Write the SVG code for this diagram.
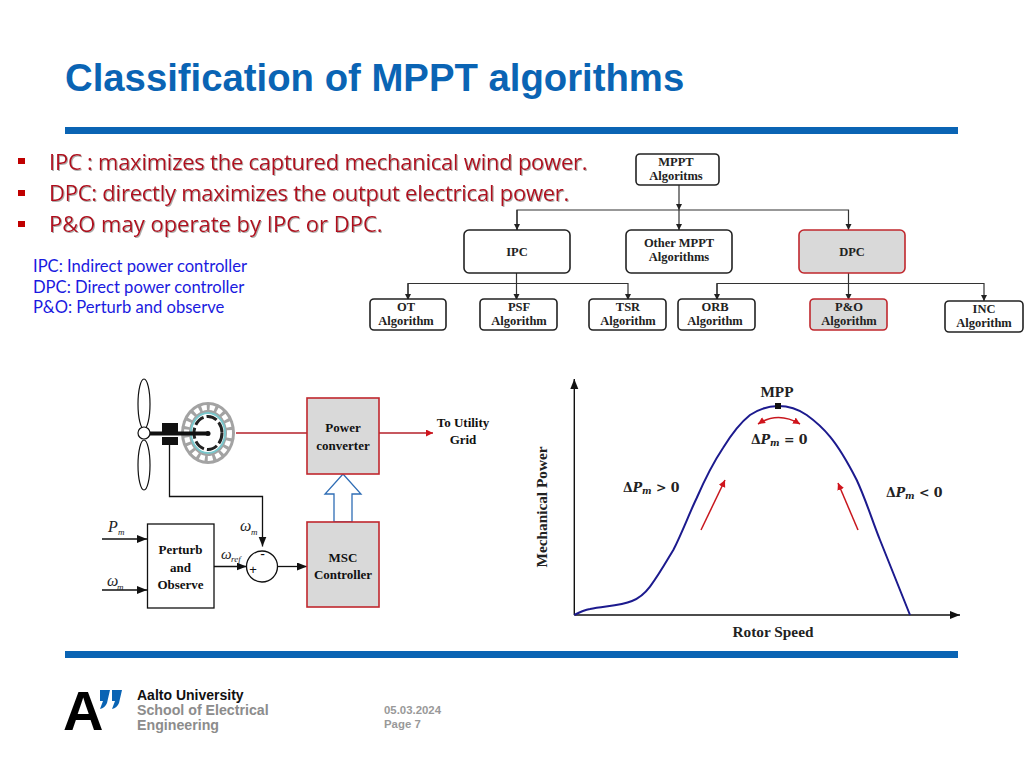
<svg xmlns="http://www.w3.org/2000/svg" width="1024" height="768" viewBox="0 0 1024 768">
<style>
.sans{font-family:"Liberation Sans",Arial,sans-serif}
.title{font-family:"Liberation Sans",Arial,sans-serif;font-weight:700;font-size:38.300px;fill:#0a64b4}
.bul{font-family:"Open Sans","Noto Sans",sans-serif;font-size:22px;letter-spacing:-0.24px;fill:#b00d1e;filter:url(#sh)}
.abbr{font-family:Lato,"Open Sans",sans-serif;font-size:16.600px;fill:#1a1ae0}
.t{font-family:"Liberation Serif","Times New Roman",serif;font-weight:700;font-size:12.500px;fill:#222;text-anchor:middle}
.s{font-family:"Liberation Serif","Times New Roman",serif;font-weight:700;font-size:13px;fill:#111;text-anchor:middle}
.s2{font-family:"Liberation Serif","Times New Roman",serif;font-weight:700;font-size:15.300px;fill:#222;text-anchor:middle}
.i{font-family:"Liberation Serif","Times New Roman",serif;font-style:italic;fill:#222}
.m{font-family:"DejaVu Serif","Liberation Serif",serif;font-weight:700;font-size:12.500px;fill:#222}
.box{fill:#fff;stroke:#222;stroke-width:1.6}
.hl{fill:#d9d9d9;stroke:#c0272d;stroke-width:1.6}
.c{fill:none;stroke:#333;stroke-width:1.2}
.k{fill:none;stroke:#111;stroke-width:1.3}
.r{fill:none;stroke:#c8171e;stroke-width:1.5}
</style>
<defs>
<filter id="sh" x="-5%" y="-20%" width="110%" height="150%"><feDropShadow dx="1" dy="1" stdDeviation="0.6" flood-color="#999" flood-opacity="0.8"/></filter>
<marker id="a" markerWidth="8" markerHeight="8" refX="6" refY="3" orient="auto" markerUnits="userSpaceOnUse"><path d="M0,0L6,3L0,6Z" fill="#222"/></marker>
<marker id="b" markerWidth="12" markerHeight="10" refX="10" refY="4" orient="auto" markerUnits="userSpaceOnUse"><path d="M0,0L10,4L0,8Z" fill="#111"/></marker>
<marker id="rh" markerWidth="10" markerHeight="10" refX="7" refY="3.500" orient="auto" markerUnits="userSpaceOnUse"><path d="M0,0L7,3.500L0,7Z" fill="#d0141c"/></marker>
<marker id="rs" markerWidth="10" markerHeight="10" refX="0" refY="3.500" orient="auto" markerUnits="userSpaceOnUse"><path d="M7,0L0,3.500L7,7Z" fill="#d0141c"/></marker>
</defs>
<rect width="1024" height="768" fill="#fff"/>
<g id="header">
<text class="title" x="65" y="91">Classification of MPPT algorithms</text>
<rect x="65" y="127" width="893" height="7" fill="#0a64b4"/>
<rect x="65" y="651" width="893" height="7" fill="#0a64b4"/>
</g>
<g id="bullets">
<rect x="18" y="158" width="7" height="6" fill="#c00000"/>
<rect x="18" y="190" width="7" height="6" fill="#c00000"/>
<rect x="18" y="221" width="7" height="6" fill="#c00000"/>
<text class="bul" x="49" y="170">IPC : maximizes the captured mechanical wind power.</text>
<text class="bul" x="49" y="201">DPC: directly maximizes the output electrical power.</text>
<text class="bul" x="49" y="232" style="letter-spacing:0">P&amp;O may operate by IPC or DPC.</text>
<text class="abbr" x="33" y="272">IPC: Indirect power controller</text>
<text class="abbr" x="33" y="292.500">DPC: Direct power controller</text>
<text class="abbr" x="33" y="313">P&amp;O: Perturb and observe</text>
</g>
<g id="tree-connectors">
<path class="c" d="M679,185V210" marker-end="url(#a)"/>
<path class="c" d="M517,230V210H848.500V230" marker-end="url(#a)"/>
<path class="c" d="M517,210V230" marker-end="url(#a)"/>
<path class="c" d="M679,210V230" marker-end="url(#a)"/>
<path class="c" d="M516.500,273V300" marker-end="url(#a)"/>
<path class="c" d="M408,300V283.500H628V300" marker-end="url(#a)"/>
<path class="c" d="M408,283.500V300" marker-end="url(#a)"/>
<path class="c" d="M848.500,273V300" marker-end="url(#a)"/>
<path class="c" d="M717,300V283.500H984V301" marker-end="url(#a)"/>
<path class="c" d="M717,283.500V300" marker-end="url(#a)"/>
</g>
<g id="n-mppt"><rect class="box" x="636" y="154" width="83" height="31" rx="4"/><text class="t" x="676" y="166">MPPT</text><text class="t" x="676" y="180">Algoritms</text></g>
<g id="n-ipc"><rect class="box" x="464" y="230" width="106" height="43" rx="5"/><text class="t" x="517" y="256">IPC</text></g>
<g id="n-other"><rect class="box" x="626" y="230" width="106" height="43" rx="5"/><text class="t" x="679" y="247">Other MPPT</text><text class="t" x="679" y="261">Algorithms</text></g>
<g id="n-dpc"><rect class="hl" x="799" y="230" width="106" height="43" rx="5"/><text class="t" x="852" y="256">DPC</text></g>
<g id="n-ot"><rect class="box" x="370" y="299" width="76" height="31" rx="4"/><text class="t" x="406" y="311">OT</text><text class="t" x="406" y="325">Algorithm</text></g>
<g id="n-psf"><rect class="box" x="480" y="299" width="77" height="31" rx="4"/><text class="t" x="519" y="311">PSF</text><text class="t" x="519" y="325">Algorithm</text></g>
<g id="n-tsr"><rect class="box" x="589" y="299" width="77" height="31" rx="4"/><text class="t" x="628" y="311">TSR</text><text class="t" x="628" y="325">Algorithm</text></g>
<g id="n-orb"><rect class="box" x="678" y="299" width="77" height="31" rx="4"/><text class="t" x="715" y="311">ORB</text><text class="t" x="715" y="325">Algorithm</text></g>
<g id="n-po"><rect class="hl" x="810" y="299" width="77" height="31" rx="4"/><text class="t" x="849" y="311">P&amp;O</text><text class="t" x="849" y="325">Algorithm</text></g>
<g id="n-inc"><rect class="box" x="945" y="301" width="78" height="31" rx="4"/><text class="t" x="984" y="313">INC</text><text class="t" x="984" y="327">Algorithm</text></g>

<g id="turbine">
<ellipse cx="144" cy="404" rx="6" ry="25" fill="#fff" stroke="#111" stroke-width="1.200"/>
<ellipse cx="144" cy="465" rx="6" ry="25" fill="#fff" stroke="#111" stroke-width="1.200"/>
<circle cx="144" cy="433" r="6" fill="#fff" stroke="#111" stroke-width="1.200"/>
<rect x="162" y="423" width="16" height="9" fill="#111"/>
<rect x="162" y="437" width="16" height="8" fill="#111"/>
</g>
<g id="generator">
<ellipse cx="208" cy="433" rx="27" ry="31" fill="#a3a3a3"/>
<ellipse cx="208" cy="433" rx="21.500" ry="25.500" fill="none" stroke="#fff" stroke-width="5" stroke-dasharray="5 3"/>
<ellipse cx="208" cy="433" rx="17" ry="20" fill="#fff" stroke="#79c7cc" stroke-width="2"/>
<ellipse cx="208" cy="433" rx="14" ry="16.500" fill="none" stroke="#222" stroke-width="3" stroke-dasharray="11 3"/>
<path d="M150,433.500H208" stroke="#111" stroke-width="4" fill="none"/>
<circle cx="208" cy="433.500" r="2.500" fill="#111"/>
</g>
<g id="system-connectors">
<path class="k" d="M169.500,445V496.500H262.500V546.500" marker-end="url(#b)"/>
<path class="k" d="M102,539H147" marker-end="url(#b)"/>
<path class="k" d="M102,590H147" marker-end="url(#b)"/>
<path class="k" d="M214,566.500H246.500" marker-end="url(#b)"/>
<path class="k" d="M277.500,566.500H307" marker-end="url(#b)"/>
<path d="M236,433H307" fill="none" stroke="#b5202a" stroke-width="1.300"/>
<path d="M379,433H433" fill="none" stroke="#b5202a" stroke-width="1.300" marker-end="url(#rh)"/>
<path d="M343,474L361,494H352V522H334V494H325Z" fill="#fff" stroke="#2f6db5" stroke-width="1.300"/>
</g>
<g id="n-converter"><rect class="hl" x="307" y="398" width="72" height="76"/><text class="s" x="343" y="432">Power</text><text class="s" x="343" y="450">converter</text></g>
<g id="n-msc"><rect class="hl" x="307" y="522" width="72" height="85"/><text class="s" x="343" y="562">MSC</text><text class="s" x="343" y="579">Controller</text></g>
<g id="n-grid"><text class="s" x="463" y="427">To Utility</text><text class="s" x="463" y="444">Grid</text></g>
<g id="n-po-block"><rect x="147.500" y="524" width="66.500" height="84" fill="#fff" stroke="#111" stroke-width="1.300"/><text class="s" x="180.500" y="554">Perturb</text><text class="s" x="180.500" y="572">and</text><text class="s" x="180.500" y="589">Observe</text></g>
<g id="n-sum"><circle cx="262" cy="566.500" r="15.500" fill="#fff" stroke="#111" stroke-width="1.300"/><text class="sans" x="262.500" y="559" font-size="14" text-anchor="middle" fill="#111">-</text><text class="sans" x="253" y="574" font-size="13" text-anchor="middle" fill="#111">+</text></g>
<g id="labels">
<text class="i" x="108" y="532" font-size="16">P</text><text class="i" x="118" y="535" font-size="9">m</text>
<text class="i" x="107" y="586" font-size="16">ω</text><text class="i" x="117" y="590" font-size="9">m</text>
<text class="i" x="240" y="531" font-size="16">ω</text><text class="i" x="251" y="535" font-size="9">m</text>
<text class="i" x="221" y="559" font-size="15">ω</text><text class="i" x="231" y="562" font-size="9">ref</text>
</g>
<g id="chart">
<path d="M574.300,615V379" fill="none" stroke="#111" stroke-width="1.400" marker-end="url(#b)"/>
<path d="M574.300,615H960" fill="none" stroke="#111" stroke-width="1.400" marker-end="url(#b)"/>
<path d="M574.300,615C580,612 584,610 590,609C604,606 620,606 632,601C640,598 646,592 650,586.700C660,573 666,562 673.300,550C682,533 689,514 696.700,498C705,479 713,463 723,448C731,435 740,423 750,415C759,409 768,406 778.300,406C788,406 798,409 806.700,415C815,421 823,428 830,436.700C841,450 849,465 856.700,480C866,500 872,520 880,540C890,565 900,590 910,615" fill="none" stroke="#1c1a8e" stroke-width="2"/>
<rect x="775" y="403" width="6" height="6" fill="#111"/>
<path class="r" d="M758,424Q778,411 800,424" marker-start="url(#rs)" marker-end="url(#rh)"/>
<path class="r" d="M701,530L725,480" marker-end="url(#rh)"/>
<path class="r" d="M858,530L838,483" marker-end="url(#rh)"/>
<text class="s2" x="777" y="397">MPP</text>
<text class="s2" x="773" y="637">Rotor Speed</text>
<text class="s2" transform="translate(547,507) rotate(-90)">Mechanical Power</text>
<text class="m" x="751" y="444">Δ<tspan font-style="italic">P</tspan><tspan font-size="9" dy="2" font-style="italic">m</tspan><tspan dy="-2"> = 0</tspan></text>
<text class="m" x="623" y="492">Δ<tspan font-style="italic">P</tspan><tspan font-size="9" dy="2" font-style="italic">m</tspan><tspan dy="-2"> &gt; 0</tspan></text>
<text class="m" x="886" y="497">Δ<tspan font-style="italic">P</tspan><tspan font-size="9" dy="2" font-style="italic">m</tspan><tspan dy="-2"> &lt; 0</tspan></text>
</g>
<g id="footer">
<text class="sans" x="63" y="730" font-size="56" font-weight="700" fill="#000">A</text>
<path d="M100,690H110L107,703Q105,708 100,709L103,701H100ZM112,690H122L119,703Q117,708 112,709L115,701H112Z" fill="#0a64b4"/>
<text class="sans" x="137" y="700" font-size="14" font-weight="700" fill="#111">Aalto University</text>
<text class="sans" x="137" y="715" font-size="14.200" font-weight="700" fill="#8c8c8c">School of Electrical</text>
<text class="sans" x="137" y="730" font-size="14.200" font-weight="700" fill="#8c8c8c">Engineering</text>
<text class="sans" x="384" y="714" font-size="11.400" font-weight="700" fill="#999">05.03.2024</text>
<text class="sans" x="384" y="728" font-size="11.400" font-weight="700" fill="#999">Page 7</text>
</g>
</svg>
